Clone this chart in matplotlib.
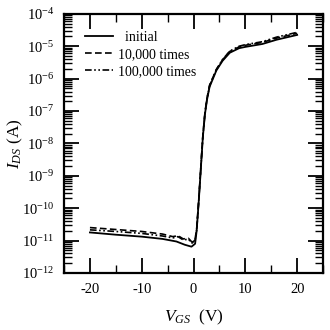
import numpy as np
import matplotlib
matplotlib.use("Agg")
import matplotlib.pyplot as plt
from matplotlib.ticker import LogLocator, MultipleLocator, NullFormatter

plt.rcParams['font.family'] = ['Liberation Serif', 'DejaVu Serif']
plt.rcParams['mathtext.fontset'] = 'custom'
plt.rcParams['mathtext.rm'] = 'Liberation Serif'
plt.rcParams['mathtext.it'] = 'Liberation Serif:italic'
plt.rcParams['axes.unicode_minus'] = False

# gate voltage (V) and log10 of drain current (A)
vgs_init = [-20, -15, -10, -6, -3.3, -1.7, -0.4, 0.3, 0.6, 1.0, 1.4, 1.8, 2.2,
            2.6, 3.1, 4.4, 5.6, 7.0, 8.8, 10, 13.3, 16, 20]
log_init = [-10.75, -10.82, -10.88, -10.95, -11.03, -11.13, -11.19, -11.1, -10.7,
            -9.8, -8.8, -7.8, -7.1, -6.65, -6.25, -5.75, -5.45, -5.2, -5.06,
            -5.02, -4.93, -4.8, -4.65]

vgs_10k = [-20, -15, -10, -6, -4, -3, -2, -1, -0.3, 0.3, 0.6, 1.0, 1.4, 1.8, 2.2,
           2.6, 3.1, 4.4, 5.6, 7.0, 8.8, 10, 13.3, 16, 20]
log_10k = [-10.6, -10.66, -10.72, -10.8, -10.88, -10.85, -10.95, -10.93, -11.05,
           -10.95, -10.65, -9.75, -8.75, -7.75, -7.05, -6.6, -6.2, -5.72, -5.42,
           -5.16, -5.02, -4.97, -4.88, -4.75, -4.6]

vgs_100k = [-20, -15, -10, -6, -4, -3, -2, -1, -0.3, 0.3, 0.6, 1.0, 1.4, 1.8, 2.2,
            2.6, 3.1, 4.4, 5.6, 7.0, 8.8, 10, 13.3, 16, 20]
log_100k = [-10.67, -10.72, -10.78, -10.86, -10.92, -10.88, -10.98, -10.96, -11.08,
            -10.98, -10.68, -9.78, -8.78, -7.78, -7.08, -6.62, -6.22, -5.72, -5.41,
            -5.15, -5.0, -4.95, -4.86, -4.72, -4.57]

fig = plt.figure(figsize=(3.3, 3.3), dpi=100)
ax = fig.add_axes([0.194, 0.173, 0.785, 0.785])

ax.plot(vgs_init, 10 ** np.array(log_init), color='black', lw=1.3, ls='-',
        label='  initial')
ax.plot(vgs_10k, 10 ** np.array(log_10k), color='black', lw=1.2, ls=(0, (4, 2)),
        label='10,000 times')
ax.plot(vgs_100k, 10 ** np.array(log_100k), color='black', lw=1.2,
        ls=(0, (4, 1.5, 1, 1.5, 1, 1.5)), label='100,000 times')

ax.set_yscale('log')
ax.set_xlim(-25, 25)
ax.set_ylim(1e-12, 1e-4)
ax.xaxis.set_major_locator(MultipleLocator(10))
ax.xaxis.set_minor_locator(MultipleLocator(5))
ax.yaxis.set_major_locator(LogLocator(base=10, numticks=20))
ax.yaxis.set_minor_locator(LogLocator(base=10, subs=np.arange(2, 10), numticks=20))
ax.yaxis.set_minor_formatter(NullFormatter())

ax.tick_params(which='both', direction='in', top=True, right=True, labelsize=10.5)
ax.tick_params(which='major', length=11, width=1.3, pad=7)
ax.tick_params(which='minor', length=6, width=1.0)
for s in ax.spines.values():
    s.set_linewidth(1.6)

ax.set_xlabel(r'$V_{GS}$  (V)', fontsize=12.5)
ax.xaxis.set_label_coords(0.5, -0.135)
ax.set_ylabel(r'$I_{DS}$ (A)', fontsize=12.5)
ax.yaxis.set_label_coords(-0.15, 0.5)

ax.legend(loc='upper left', bbox_to_anchor=(0.06, 0.955), frameon=False,
          fontsize=10, handlelength=2.0, handletextpad=0.4, labelspacing=0.28,
          borderaxespad=0.0)

fig.savefig('out.png', dpi=100)
